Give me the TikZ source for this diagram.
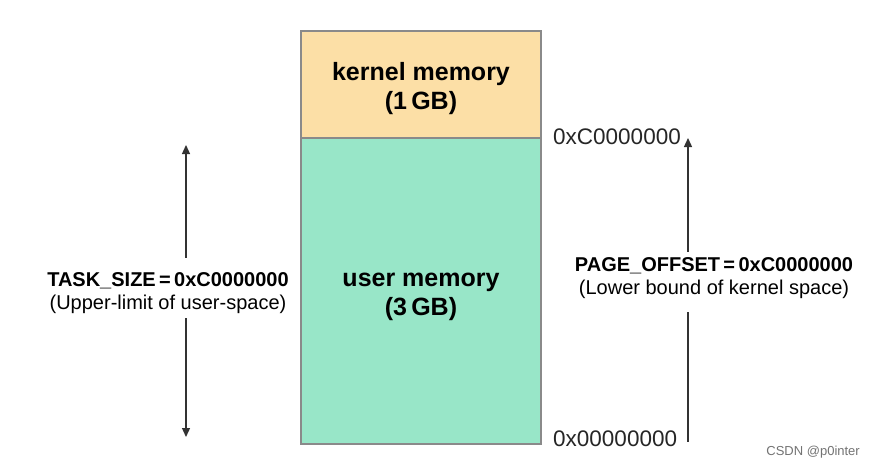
\documentclass[tikz,border=0pt]{standalone}
\usepackage{fontspec}
\setmainfont{Liberation Sans}
\usetikzlibrary{arrows.meta}
\definecolor{kern}{HTML}{FCDFA6}
\definecolor{usr}{HTML}{98E6C8}
\definecolor{edge}{HTML}{8A8A8A}
\begin{document}
\begin{tikzpicture}[x=1pt,y=-1pt,
  region/.style={draw=edge,line width=1.2pt,minimum width=240pt,inner sep=0pt},
  rlabel/.style={inner sep=0pt,font=\fontsize{25}{29}\selectfont\bfseries,align=center},
  addr/.style={font=\fontsize{22.5}{26}\selectfont,anchor=west,inner sep=0pt,text=black!85},
  note/.style={align=center,inner sep=0pt,minimum height=60pt,font=\fontsize{20}{22}\selectfont},
  conn/.style={line width=1.3pt,draw=black!80,-{Triangle[length=9pt,width=8pt]}},
  plain/.style={line width=1.3pt,draw=black!80}]
\useasboundingbox (0,0) rectangle (877,468);
\fill[white] (0,0) rectangle (877,468);
\node[region,fill=kern,minimum height=107pt] (kernel) at (421,84.5) {};
\node[region,fill=usr,minimum height=306pt] (user) at (421,291) {};
\node[rlabel] (klab) at (421,88.5) {kernel memory\\(1\,GB)};
\node[rlabel] (ulab) at (421,297) {user memory\\(3\,GB)};
\node[addr] (ahigh) at (553,137) {0xC0000000};
\node[addr] (alow) at (553,439) {0x00000000};
% left
\coordinate (ltop) at (186,145);
\coordinate (lbot) at (186,437);
\node[note] (task) at (168,293.5) {\textbf{TASK\_SIZE\,=\,0xC0000000}\\[1pt](Upper-limit of user-space)};
\draw[conn] ([yshift=5.5pt]task.north -| ltop) -- (ltop);
\draw[conn] ([yshift=5.5pt]task.south -| lbot) -- (lbot);
% right
\coordinate (rtop) at (688,138);
\coordinate (rbot) at (688,442);
\node[note] (page) at (714,278) {\textbf{PAGE\_OFFSET\,=\,0xC0000000}\\[1pt](Lower bound of kernel space)};
\draw[conn] ([yshift=-4pt]page.north -| rtop) -- (rtop);
\draw[plain] ([yshift=-4pt]page.south -| rbot) -- (rbot);
\node[font=\fontsize{13}{15}\selectfont,text=black!55,anchor=east,inner sep=0pt] (wm) at (860,452) {CSDN @p0inter};
\end{tikzpicture}
\end{document}
